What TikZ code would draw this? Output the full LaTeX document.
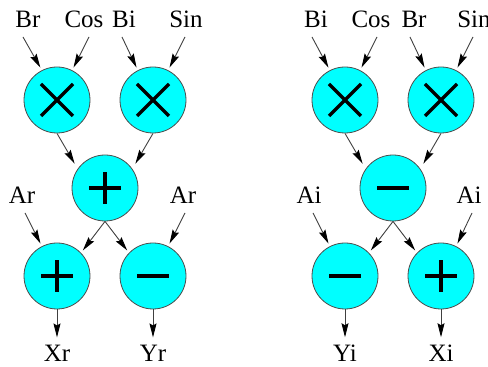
\documentclass[tikz,border=0pt]{standalone}
\usepackage{fontspec}
\setmainfont{Liberation Serif}
\usetikzlibrary{arrows.meta}
\definecolor{opcyan}{RGB}{0,255,255}
\begin{document}
\begin{tikzpicture}[x=1pt,y=1pt,
  op/.style={circle,fill=opcyan,draw=black!70,line width=0.8pt,minimum size=66pt,inner sep=0pt},
  sym/.style={draw=black,line width=3.3pt},
  mul/.style={op,path picture={\path[sym] (path picture bounding box.center) +(-16,-16) -- +(16,16) +(-16,16) -- +(16,-16);}},
  add/.style={op,path picture={\path[sym] (path picture bounding box.center) +(-16,0) -- +(16,0) +(0,-16) -- +(0,16);}},
  sub/.style={op,path picture={\path[sym] (path picture bounding box.center) +(-16,0) -- +(16,0);}},
  lbl/.style={inner sep=0pt,anchor=base,font=\fontsize{25}{28}\selectfont},
  arr/.style={draw=black!75,line width=0.9pt,shorten >=3pt,-{Stealth[length=14pt,width=7pt,inset=2pt,color=black]}}]
\useasboundingbox (0,0) rectangle (488,367);
\node[mul] (m1) at (57,267) {};
\node[mul] (m2) at (153,267) {};
\node[add] (s1) at (105,179) {};
\node[add] (a1) at (57,91) {};
\node[sub] (d1) at (153,91) {};
\node[mul] (m3) at (345,267) {};
\node[mul] (m4) at (441,267) {};
\node[sub] (d2) at (393,179) {};
\node[sub] (d3) at (345,91) {};
\node[add] (a2) at (441,91) {};
\node[lbl] (br1) at (28,339) {Br};
\node[lbl] (cos1) at (84,339) {Cos};
\node[lbl] (bi1) at (124,339) {Bi};
\node[lbl] (sin1) at (186,339) {Sin};
\node[lbl] (bi2) at (316,339) {Bi};
\node[lbl] (cos2) at (371,339) {Cos};
\node[lbl] (br2) at (414,339) {Br};
\node[lbl] (sin2) at (474,339) {Sin};
\node[lbl] (ar1) at (22,163) {Ar};
\node[lbl] (ar2) at (183,163) {Ar};
\node[lbl] (ai1) at (309,163) {Ai};
\node[lbl] (ai2) at (469,163) {Ai};
\node[lbl] (xr) at (57,5) {Xr};
\node[lbl] (yr) at (153,5) {Yr};
\node[lbl] (yi) at (345,5) {Yi};
\node[lbl] (xi) at (441,5) {Xi};
\draw[arr] ([shift={(-5,-9)}]br1.base) -- (m1.117);
\draw[arr] ([shift={(5,-9)}]cos1.base) -- (m1.63);
\draw[arr] ([shift={(-2,-9)}]bi1.base) -- (m2.117);
\draw[arr] ([shift={(-1,-9)}]sin1.base) -- (m2.63);
\draw[arr] ([shift={(-4,-9)}]bi2.base) -- (m3.117);
\draw[arr] ([shift={(6,-9)}]cos2.base) -- (m3.63);
\draw[arr] ([shift={(-4,-9)}]br2.base) -- (m4.117);
\draw[arr] ([shift={(-1,-9)}]sin2.base) -- (m4.63);
\draw[arr,shorten >=6pt] (m1.south) -- (s1.145);
\draw[arr,shorten >=6pt] (m2.south) -- (s1.35);
\draw[arr,shorten >=6pt] (m3.south) -- (d2.145);
\draw[arr,shorten >=6pt] (m4.south) -- (d2.35);
\draw[arr] (s1.south) -- (a1.44);
\draw[arr] (s1.south) -- (d1.136);
\draw[arr] (d2.south) -- (d3.44);
\draw[arr] (d2.south) -- (a2.136);
\draw[arr] ([shift={(3,-9)}]ar1.base) -- (a1.117);
\draw[arr] ([shift={(2,-9)}]ar2.base) -- (d1.63);
\draw[arr] ([shift={(4,-9)}]ai1.base) -- (d3.117);
\draw[arr] ([shift={(3,-9)}]ai2.base) -- (a2.63);
\draw[arr] (a1.south) -- ([yshift=5pt]xr.north);
\draw[arr] (d1.south) -- ([yshift=5pt]yr.north);
\draw[arr] (d3.south) -- ([yshift=5pt]yi.north);
\draw[arr] (a2.south) -- ([yshift=5pt]xi.north);
\end{tikzpicture}
\end{document}
